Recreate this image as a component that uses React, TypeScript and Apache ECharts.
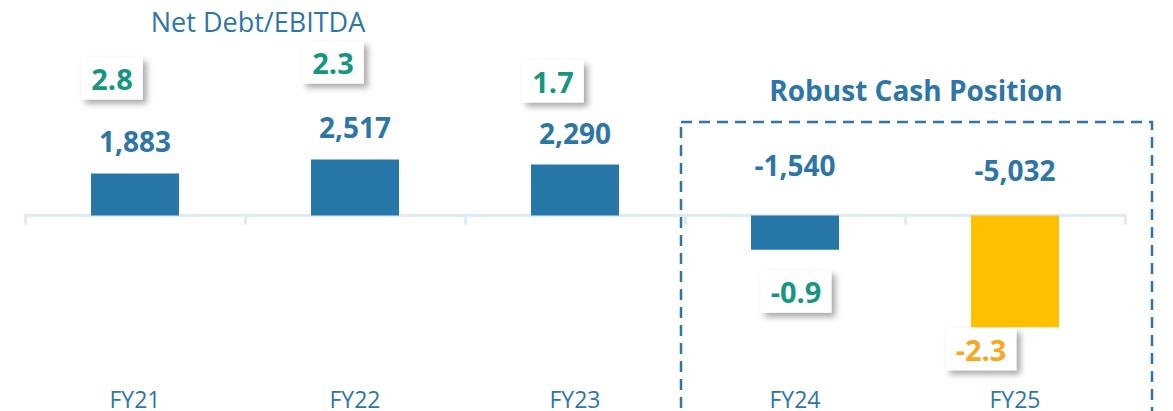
import React, { useEffect, useRef } from "react";
import * as echarts from "echarts";

const categories = ["FY21", "FY22", "FY23", "FY24", "FY25"];
const netDebt = [1883, 2517, 2290, -1540, -5032];
const netDebtLabels = ["1,883", "2,517", "2,290", "-1,540", "-5,032"];
const ratios = [2.8, 2.3, 1.7, -0.9, -2.3];
const barColors = ["#2777A9", "#2777A9", "#2777A9", "#2777A9", "#FFC000"];
const ratioColors = ["#17967F", "#17967F", "#17967F", "#17967F", "#F7A823"];
// label layout offsets (pixels)
const valueOffsets = [[0, -33], [0, -32], [0, -32], [0, -50], [0, -45]];
const ratioOffsets = [[-23, -95], [-22, -97], [-22, -83], [1, 42], [-34, 22]];

const FONT = "'Open Sans', 'Noto Sans', sans-serif";
const BLUE = "#2E75A8";

export default function App() {
  const ref = useRef<HTMLDivElement>(null);
  useEffect(() => {
    document.body.style.margin = "0";
    const chart = echarts.init(ref.current!, null, { renderer: "svg" });
    chart.setOption({
      animation: false,
      backgroundColor: "#ffffff",
      grid: { left: 25, right: 48, top: 82, height: 298, outerBoundsMode: "none", containLabel: false },
      xAxis: [
        {
          type: "category",
          data: categories,
          axisLine: { onZero: true, lineStyle: { color: "#DDEBF7", width: 3 } },
          axisTick: { show: true, length: 9, lineStyle: { color: "#DDEBF7", width: 3 } },
          axisLabel: { show: false },
        },
        {
          type: "category",
          data: categories,
          position: "bottom",
          axisLine: { show: false, onZero: false },
          axisTick: { show: false },
          axisLabel: {
            margin: 8,
            fontSize: 23,
            lineHeight: 22,
            color: BLUE,
            fontFamily: FONT,
          },
        },
      ],
      yAxis: { type: "value", min: -7400, max: 6000, show: false, splitLine: { show: false } },
      series: [
        {
          type: "bar",
          barWidth: 88,
          data: netDebt.map((v, i) => ({ value: v, itemStyle: { color: barColors[i] } })),
          z: 2,
        },
        {
          type: "scatter",
          symbolSize: 0,
          silent: true,
          z: 5,
          itemStyle: { opacity: 1 },
          data: netDebt.map((v, i) => ({
            value: [categories[i], Math.max(v, 0)],
            label: {
              show: true,
              position: "inside",
              offset: valueOffsets[i],
              formatter: netDebtLabels[i],
              fontSize: 28,
              fontWeight: "bold",
              color: BLUE,
              fontFamily: FONT,
            },
          })),
        },
        {
          type: "scatter",
          symbolSize: 0,
          silent: true,
          z: 6,
          itemStyle: { opacity: 1 },
          data: ratios.map((r, i) => ({
            value: [categories[i], netDebt[i]],
            label: {
              show: true,
              position: "inside",
              offset: ratioOffsets[i],
              formatter: r.toFixed(1),
              fontSize: 29,
              fontWeight: "bold",
              color: ratioColors[i],
              fontFamily: FONT,
              backgroundColor: "#ffffff",
              padding: [7, 10, 6, 10],
              shadowColor: "rgba(0,0,0,0.35)",
              shadowBlur: 6,
              shadowOffsetX: 4,
              shadowOffsetY: 4,
            },
          })),
        },
      ],
      graphic: [
        {
          type: "text",
          x: 258,
          y: 21,
          style: {
            text: "Net Debt/EBITDA",
            fontSize: 27,
            fill: BLUE,
            fontFamily: FONT,
            textAlign: "center",
            textVerticalAlign: "middle",
          },
        },
        {
          type: "text",
          x: 916,
          y: 90,
          style: {
            text: "Robust Cash Position",
            fontSize: 28,
            fontWeight: "bold",
            fill: BLUE,
            fontFamily: FONT,
            textAlign: "center",
            textVerticalAlign: "middle",
          },
        },
        {
          type: "rect",
          shape: { x: 681, y: 122, width: 471, height: 320 },
          style: { fill: "none", stroke: BLUE, lineWidth: 2.5, lineDash: [11, 7] },
          z: 10,
        },
      ],
    });
    return () => chart.dispose();
  }, []);
  return <div ref={ref} style={{ width: 1173, height: 411 }} />;
}
